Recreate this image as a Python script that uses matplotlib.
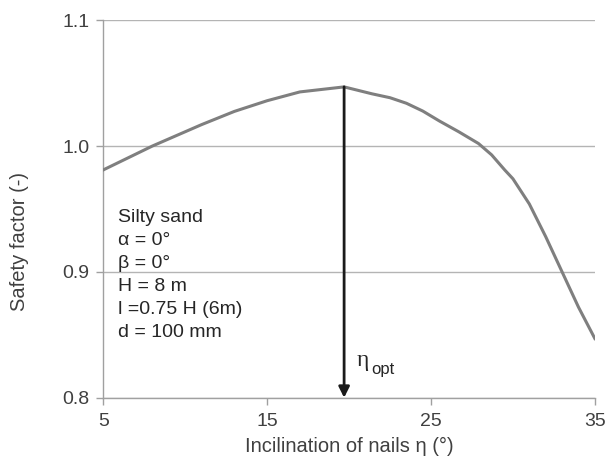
import matplotlib
matplotlib.use("Agg")
from matplotlib import pyplot as plt

# inclination of nails (deg) and safety factor
eta = [5, 8, 11, 13, 15, 17, 19.7, 21.4, 22.5, 23.5, 24.5, 25.5, 26.7, 27.9,
       28.7, 29.5, 30, 31, 32, 33, 34, 35]
fs = [0.981, 1.0, 1.017, 1.0275, 1.036, 1.043, 1.047, 1.0415, 1.0384, 1.034,
      1.0278, 1.020, 1.0113, 1.002, 0.993, 0.981, 0.974, 0.954, 0.928, 0.900,
      0.872, 0.847]
eta_opt = 19.7
xticks = [5, 15, 25, 35]
yticks = [0.8, 0.9, 1.0, 1.1]
info = ["Silty sand", "α = 0°", "β = 0°", "H = 8 m", "l =0.75 H (6m)", "d = 100 mm"]

plt.rcParams['font.family'] = ['Liberation Sans', 'DejaVu Sans']
txt = '#404040'

fig = plt.figure(figsize=(6.07, 4.59), dpi=100)
ax = fig.add_axes([0.170, 0.1335, 0.810, 0.8225])

ax.plot(eta, fs, color='#7f7f7f', lw=2.2, solid_joinstyle='round', zorder=3)

ax.annotate('', xy=(eta_opt, 0.8), xytext=(eta_opt, max(fs)),
            arrowprops=dict(arrowstyle='-|>', color='#1a1a1a', lw=2,
                            mutation_scale=16, shrinkA=0, shrinkB=0), zorder=4)

ax.set_xlim(5, 35)
ax.set_ylim(0.8, 1.1)
ax.set_xticks(xticks)
ax.set_yticks(yticks)
ax.set_yticklabels(['%.1f' % v for v in yticks])
ax.grid(axis='y', color='#b4b4b4', lw=1)
ax.set_axisbelow(True)
for s in ['top', 'right']:
    ax.spines[s].set_visible(False)
for s in ['left', 'bottom']:
    ax.spines[s].set_color('#a0a0a0')
    ax.spines[s].set_linewidth(1)
ax.tick_params(colors='#a0a0a0', labelcolor=txt, labelsize=14, length=5, width=1)
ax.tick_params(axis='x', pad=6)
ax.tick_params(axis='y', pad=5)

ax.set_xlabel('Incilination of nails η (°)', fontsize=14.5, color=txt)
ax.set_ylabel('Safety factor (-)', fontsize=14.5, color=txt)
ax.xaxis.set_label_coords(0.5, -0.105)
ax.yaxis.set_label_coords(-0.150, 0.413)

# parameter block, one line at a time
for i, line in enumerate(info):
    ax.text(0.030, 0.466 - i * 0.0608, line, transform=ax.transAxes,
            fontsize=14, color='#262626', va='baseline', ha='left')

ax.text(20.45, 0.825, 'η', family='Liberation Serif', fontsize=17,
        color='#262626', va='baseline')
ax.text(21.35, 0.8185, 'opt', fontsize=12, color='#262626', va='baseline')

fig.savefig('out.png', dpi=100)
